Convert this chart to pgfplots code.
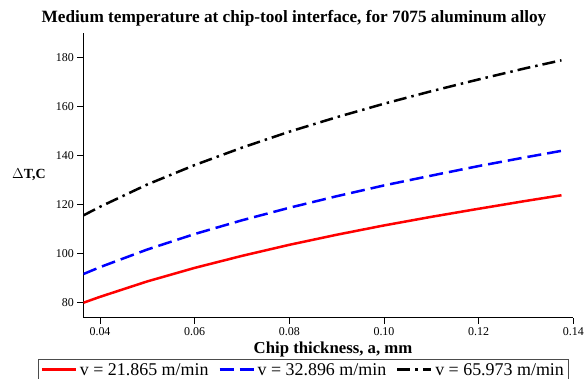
\documentclass[border=0pt]{standalone}
\usepackage{fontspec}
\setmainfont{Liberation Serif}
\usepackage{pgfplots}
\pgfplotsset{compat=1.18}
\begin{document}
\begin{tikzpicture}
\path[use as bounding box] (-83.3bp,-61.3bp) rectangle (504.7bp,317.7bp);
\begin{axis}[
  at={(0,0)}, anchor=south west,
  scale only axis, width=490bp, height=284.4bp,
  xmin=0.03647, xmax=0.14, ymin=73.9, ymax=189.8,
  axis lines=left, axis line style={-, line width=0.8bp},
  tick align=outside, major tick length=6bp,
  every tick/.style={black, line width=0.8bp},
  xtick={0.04,0.06,0.08,0.10,0.12,0.14},
  ytick={80,100,120,140,160,180},
  scaled x ticks=false,
  x tick label style={/pgf/number format/.cd, fixed, fixed zerofill, precision=2, /tikz/.cd},
  tick label style={font=\fontsize{12}{13}\selectfont},
  /pgf/number format/assume math mode=true,
  title={Medium temperature at chip-tool interface, for 7075 aluminum alloy},
  title style={at={(0.430,1.0176)}, anchor=base, font=\fontsize{17.3}{19}\selectfont\bfseries},
  xlabel={Chip thickness, a, mm},
  every axis x label/.style={at={(0.5096,-0.1276)}, anchor=base, font=\fontsize{16.8}{18}\selectfont\bfseries},
  ylabel={$\Delta$T,C},
  every axis y label/.style={at={(-0.1108,0.502)}, anchor=center, font=\fontsize{14}{16}\selectfont\bfseries},
  legend columns=3,
  legend style={at={(-0.0924,-0.1463)}, anchor=north west, draw=gray!60!black, line width=0.8bp,
    font=\fontsize{18}{20}\selectfont, inner xsep=2bp, inner ysep=1bp,
    nodes={inner sep=2.5bp},
    /tikz/every even column/.append style={column sep=7bp}},
  legend image code/.code={\draw[#1, line width=3bp] (0bp,0bp) -- (34bp,0bp);},
]
\addplot[red, line width=2.5bp] coordinates {
(0.0365,80.0) (0.04,82.4) (0.05,88.7) (0.06,94.2) (0.07,99.1) (0.08,103.6)
(0.09,107.7) (0.10,111.5) (0.11,115.0) (0.12,118.3) (0.13,121.5) (0.1375,123.8)};
\addlegendentry{v = 21.865 m/min}
\addplot[blue, line width=2.5bp, dash pattern=on 14bp off 6bp] coordinates {
(0.0365,91.7) (0.04,94.5) (0.05,101.7) (0.06,108.0) (0.07,113.6) (0.08,118.7)
(0.09,123.4) (0.10,127.8) (0.11,131.8) (0.12,135.7) (0.13,139.3) (0.1375,141.9)};
\addlegendentry{v = 32.896 m/min}
\addplot[black, line width=2.5bp, dash pattern=on 13bp off 5bp on 2.5bp off 5bp] coordinates {
(0.0365,115.6) (0.04,119.1) (0.05,128.2) (0.06,136.1) (0.07,143.2) (0.08,149.7)
(0.09,155.6) (0.10,161.1) (0.11,166.2) (0.12,171.0) (0.13,175.6) (0.1375,178.8)};
\addlegendentry{v = 65.973 m/min}
\end{axis}
\end{tikzpicture}
\end{document}
